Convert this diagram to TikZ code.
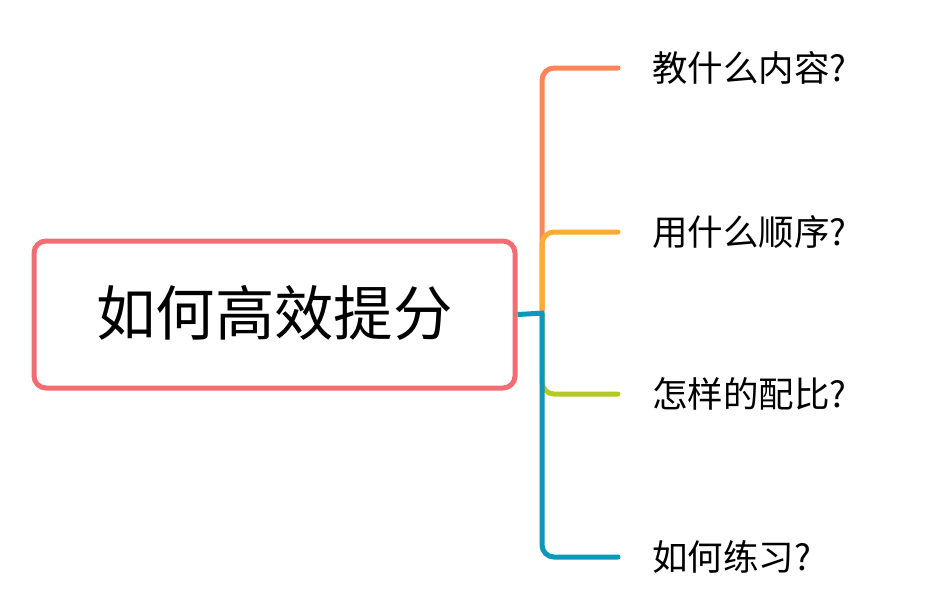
\documentclass[tikz,border=0pt]{standalone}
\usepackage{fontspec}
\setmainfont{Noto Sans CJK SC}
\usetikzlibrary{backgrounds}
\definecolor{cred}{RGB}{240,110,115}
\definecolor{corange}{RGB}{255,133,87}
\definecolor{cyellow}{RGB}{255,170,51}
\definecolor{cgreen}{RGB}{181,200,36}
\definecolor{cblue}{RGB}{12,152,186}
\tikzset{
  rootbox/.style={draw=cred, line width=5pt, rounded corners=12pt, fill=white,
    minimum width=481pt, minimum height=147pt, inner sep=0pt,
    font=\fontsize{59.4pt}{64pt}\selectfont},
  leaf/.style={anchor=west, inner sep=0pt, font=\fontsize{35.5pt}{40pt}\selectfont},
  branch/.style={line width=5pt, line cap=round, rounded corners=12pt}
}
\begin{document}
\begin{tikzpicture}[x=1pt,y=-1pt]
\useasboundingbox (0,0) rectangle (936,614);
\node[rootbox] (root) at (274.5,314.5) {\raisebox{8pt}{如何高效提分}};
\node[leaf] (l1) at (652,68) {教什么内容?};
\node[leaf] (l2) at (652,232) {用什么顺序?};
\node[leaf] (l3) at (652,394) {怎样的配比?};
\node[leaf] (l4) at (652,557) {如何练习?};
\coordinate (j) at (542,313);
\coordinate (jt) at (542,310);
\coordinate (e1) at (618,68);
\coordinate (e2) at (618,232);
\coordinate (e3) at (618,394);
\coordinate (e4) at (618,557);
\begin{pgfonlayer}{background}
\draw[branch, corange] (jt) |- (e1);
\draw[branch, cyellow] (jt) |- (e2);
\draw[branch, cgreen] (j) |- (e3);
\draw[line width=5pt, cblue, line cap=butt] (root.east) -- ([xshift=2.5pt]j);
\draw[branch, cblue, line cap=round] ([yshift=-2.5pt]j) |- (e4);
\end{pgfonlayer}
\end{tikzpicture}
\end{document}
